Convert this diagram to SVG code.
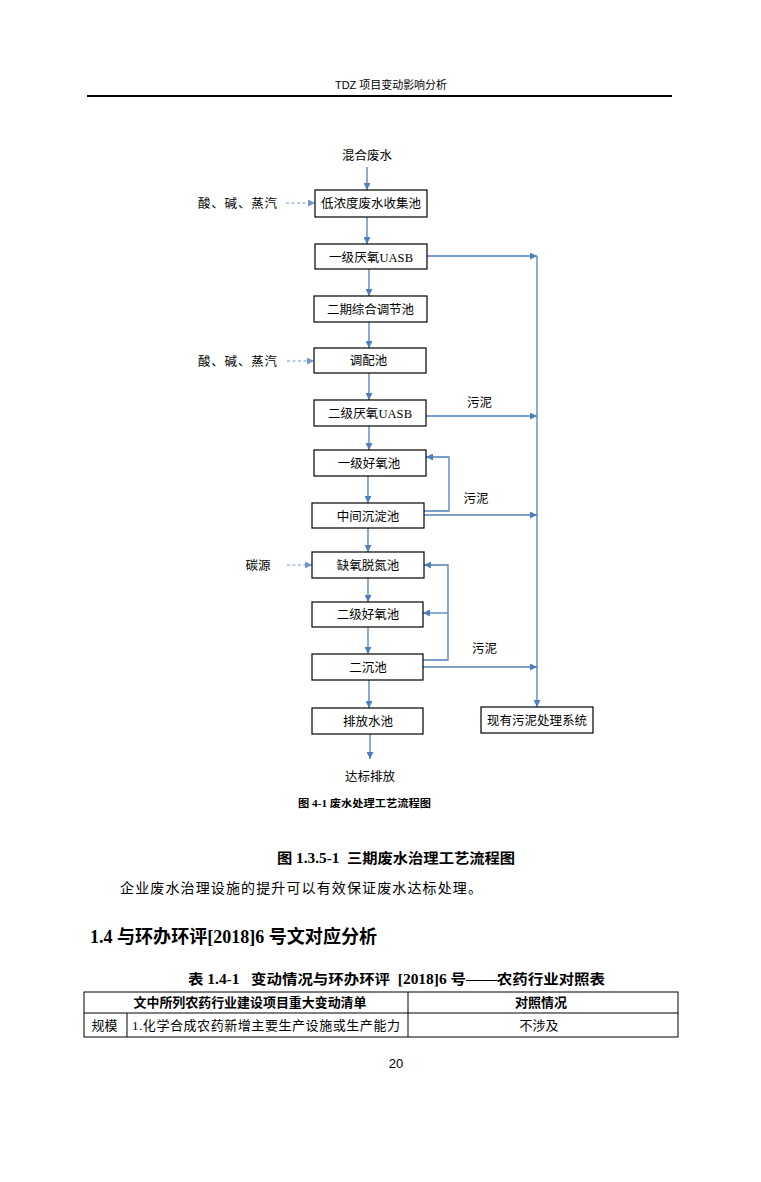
<svg xmlns="http://www.w3.org/2000/svg" width="761" height="1182" viewBox="0 0 761 1182">
<defs>
<marker id="ah" viewBox="0 0 8 8" refX="8" refY="4" markerWidth="7" markerHeight="7" markerUnits="userSpaceOnUse" orient="auto"><path d="M0,0 L8,4 L0,8 z" fill="#4F7EBC"/></marker>
<marker id="ahd" viewBox="0 0 8 8" refX="8" refY="4" markerWidth="7" markerHeight="7" markerUnits="userSpaceOnUse" orient="auto"><path d="M0,0 L8,4 L0,8 z" fill="#6F95CC"/></marker>
</defs>
<style>
.box{fill:#fff;stroke:#000;stroke-width:1.2}
.t{font-family:"Noto Sans CJK SC","Liberation Sans",sans-serif;font-size:12.5px;fill:#000;text-anchor:middle}
.l{font-family:"Liberation Serif",serif}
.c{stroke:#4F7EBC;stroke-width:1.3;fill:none}
.d{stroke:#6F95CC;stroke-width:1.2;stroke-dasharray:3 2.5;fill:none}
.b{font-family:"Liberation Serif","Noto Sans CJK SC",serif;font-weight:bold;fill:#000;white-space:pre}
.p{font-family:"Liberation Serif","Noto Sans CJK SC",serif;fill:#000}
.tl{stroke:#000;stroke-width:1;fill:none}
</style>
<rect width="761" height="1182" fill="#fff"/>
<g id="header">
<text x="391" y="88.5" font-family="Liberation Sans, Noto Sans CJK SC, sans-serif" font-size="11" text-anchor="middle" textLength="112" lengthAdjust="spacingAndGlyphs">TDZ 项目变动影响分析</text>
<line x1="87" y1="96" x2="672" y2="96" stroke="#000" stroke-width="2"/>
</g>
<g id="connectors">
<path class="c" d="M367,167 V190" marker-end="url(#ah)"/>
<path class="c" d="M367,217 V244" marker-end="url(#ah)"/>
<path class="c" d="M369,269 V296" marker-end="url(#ah)"/>
<path class="c" d="M369,322 V348" marker-end="url(#ah)"/>
<path class="c" d="M369,373 V400" marker-end="url(#ah)"/>
<path class="c" d="M369,426 V450" marker-end="url(#ah)"/>
<path class="c" d="M368,476 V503" marker-end="url(#ah)"/>
<path class="c" d="M368,528 V552" marker-end="url(#ah)"/>
<path class="c" d="M368,578 V602" marker-end="url(#ah)"/>
<path class="c" d="M368,627 V654" marker-end="url(#ah)"/>
<path class="c" d="M369,680 V708" marker-end="url(#ah)"/>
<path class="c" d="M370,734 V759" marker-end="url(#ah)"/>
<path class="d" d="M286,203 H315" marker-end="url(#ahd)"/>
<path class="d" d="M287,361 H314" marker-end="url(#ahd)"/>
<path class="d" d="M287,565 H312" marker-end="url(#ahd)"/>
<path class="c" d="M427,256 H537" marker-end="url(#ah)"/>
<path class="c" d="M537,256 V707" marker-end="url(#ah)"/>
<path class="c" d="M426,416 H537" marker-end="url(#ah)"/>
<path class="c" d="M424,515 H537" marker-end="url(#ah)"/>
<path class="c" d="M423,667 H537" marker-end="url(#ah)"/>
<path class="c" d="M424,511 H449 V457 H426" marker-end="url(#ah)"/>
<path class="c" d="M423,660 H448 V565 H424" marker-end="url(#ah)"/>
<path class="c" d="M448,613 H423" marker-end="url(#ah)"/>
</g>
<g id="n0"><text class="t" x="367" y="159.5">混合废水</text></g>
<g id="n1"><rect class="box" x="315" y="190" width="112" height="27"/><text class="t" x="371" y="208" textLength="100">低浓度废水收集池</text></g>
<g id="n2"><rect class="box" x="315" y="244" width="112" height="25"/><text class="t" x="371" y="261.5" textLength="84">一级厌氧<tspan class="l">UASB</tspan></text></g>
<g id="n3"><rect class="box" x="314" y="296" width="113" height="26"/><text class="t" x="370.5" y="314" textLength="87">二期综合调节池</text></g>
<g id="n4"><rect class="box" x="314" y="348" width="112" height="25"/><text class="t" x="368.5" y="365">调配池</text></g>
<g id="n5"><rect class="box" x="314" y="400" width="112" height="26"/><text class="t" x="370" y="417.5" textLength="84">二级厌氧<tspan class="l">UASB</tspan></text></g>
<g id="n6"><rect class="box" x="314" y="450" width="112" height="26"/><text class="t" x="369" y="467.5">一级好氧池</text></g>
<g id="n7"><rect class="box" x="312" y="503" width="112" height="25"/><text class="t" x="368" y="520.5">中间沉淀池</text></g>
<g id="n8"><rect class="box" x="312" y="552" width="112" height="26"/><text class="t" x="368" y="569.5">缺氧脱氮池</text></g>
<g id="n9"><rect class="box" x="312" y="602" width="111" height="25"/><text class="t" x="368" y="619">二级好氧池</text></g>
<g id="n10"><rect class="box" x="312" y="654" width="111" height="26"/><text class="t" x="368" y="671.5">二沉池</text></g>
<g id="n11"><rect class="box" x="312" y="708" width="111" height="26"/><text class="t" x="368" y="725.5">排放水池</text></g>
<g id="n12"><rect class="box" x="481" y="707" width="112" height="26"/><text class="t" x="537" y="724.5" textLength="100">现有污泥处理系统</text></g>
<g id="n13"><text class="t" x="370" y="780.5">达标排放</text></g>
<g id="labels">
<text class="t" x="237.5" y="207.5" textLength="79">酸、碱、蒸汽</text>
<text class="t" x="237.5" y="365.5" textLength="79">酸、碱、蒸汽</text>
<text class="t" x="258" y="569.5">碳源</text>
<text class="t" x="479.5" y="406.5">污泥</text>
<text class="t" x="476" y="502.5">污泥</text>
<text class="t" x="484.5" y="652.5">污泥</text>
</g>
<g id="captions">
<text class="b" x="364.5" y="806.5" font-size="10" text-anchor="middle" textLength="133" lengthAdjust="spacingAndGlyphs">图 4-1 废水处理工艺流程图</text>
<text class="b" x="396" y="863" font-size="14" text-anchor="middle" textLength="238" lengthAdjust="spacingAndGlyphs">图 1.3.5-1  三期废水治理工艺流程图</text>
<text class="p" x="120" y="893" font-size="14" textLength="362">企业废水治理设施的提升可以有效保证废水达标处理。</text>
<text class="b" x="90" y="943" font-size="18" textLength="287" lengthAdjust="spacingAndGlyphs">1.4 与环办环评[2018]6 号文对应分析</text>
<text class="b" x="396.5" y="984" font-size="14" text-anchor="middle" textLength="417" lengthAdjust="spacingAndGlyphs">表 1.4-1   变动情况与环办环评  [2018]6 号——农药行业对照表</text>
</g>
<g id="table">
<rect class="tl" x="84" y="992" width="594" height="45" stroke-width="1.4"/>
<line class="tl" x1="84" y1="1013" x2="678" y2="1013"/>
<line class="tl" x1="408" y1="992" x2="408" y2="1037"/>
<line class="tl" x1="127" y1="1013" x2="127" y2="1037"/>
<text class="b" x="250" y="1007" font-size="13" text-anchor="middle" textLength="233" lengthAdjust="spacingAndGlyphs">文中所列农药行业建设项目重大变动清单</text>
<text class="b" x="541" y="1007" font-size="13" text-anchor="middle">对照情况</text>
<text class="p" x="104.5" y="1030" font-size="13" text-anchor="middle">规模</text>
<text class="p" x="132" y="1030" font-size="13" textLength="268">1.化学合成农药新增主要生产设施或生产能力</text>
<text class="p" x="539" y="1030" font-size="13" text-anchor="middle">不涉及</text>
</g>
<g id="footer"><text x="396" y="1068" font-family="Liberation Sans, sans-serif" font-size="13" text-anchor="middle">20</text></g>
</svg>
